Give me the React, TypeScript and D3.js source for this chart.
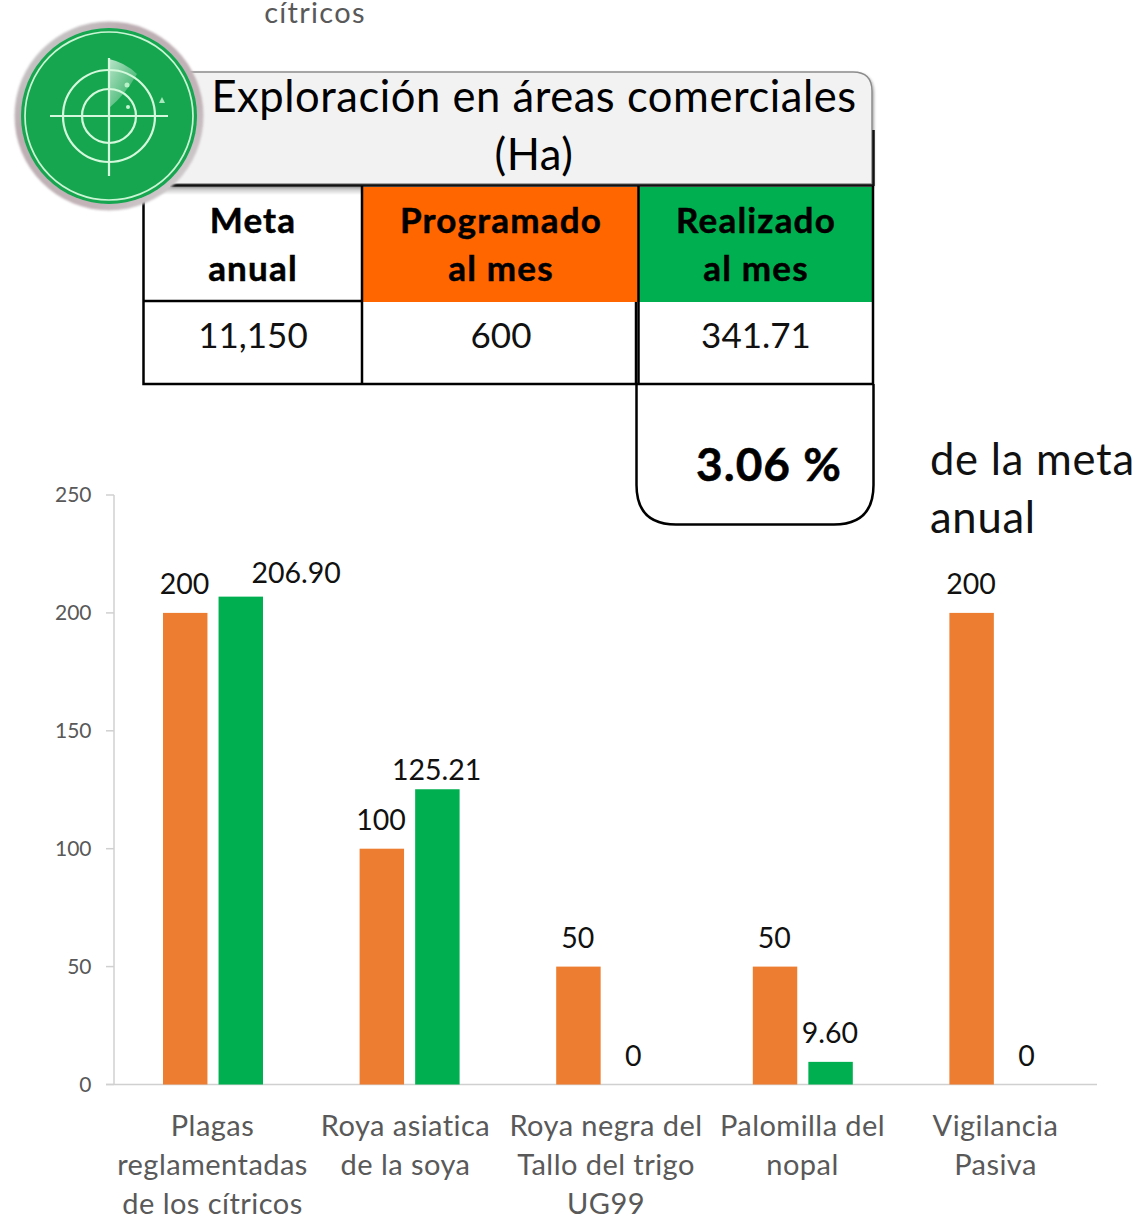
import React from "react";
import * as d3 from "d3";

const categories = ["Plagas reglamentadas de los cítricos", "Roya asiatica de la soya", "Roya negra del Tallo del trigo UG99", "Palomilla del nopal", "Vigilancia Pasiva"];
const categoryLines = [["Plagas", "reglamentadas", "de los cítricos"], ["Roya asiatica", "de la soya"], ["Roya negra del", "Tallo del trigo", "UG99"], ["Palomilla del", "nopal"], ["Vigilancia", "Pasiva"]];
const labelCenters = [212.5, 405.5, 606, 802.5, 995.5];
const programado = [200, 100, 50, 50, 200];
const realizado = [206.9, 125.21, 0, 9.6, 0];
const realizadoLabels = ["206.90", "125.21", "0", "9.60", "0"];
const realizadoLabelShift = [56, 0, 0, 0, 0];
const realizadoLabelGap = [14, 9, 19, 19, 19];
const yTicks = [0, 50, 100, 150, 200, 250];
const series = ["Programado", "Realizado"];
const FONT = "Lato, 'Open Sans', sans-serif";

const W = 1142, H = 1216;
const x = d3.scaleBand().domain(categories).range([114, 1097]).paddingInner(0).paddingOuter(0);
const inner = d3.scaleBand().domain(series).range([49, 149]).paddingInner(0.2).paddingOuter(0);
const y = d3.scaleLinear().domain([0, 250]).range([1084.5, 495]);
const tickColor = "#d0d0d0";
const textGray = "#595959";
const orange = "#ed7d31";
const green = "#00b050";

function Radar() {
  const cx = 109, cy = 116;
  return (
    <g>
      <defs>
        <linearGradient id="sweep" x1="0" y1="0" x2="1" y2="1">
          <stop offset="0" stopColor="#fff" stopOpacity="0.7" />
          <stop offset="1" stopColor="#fff" stopOpacity="0.03" />
        </linearGradient>
        <linearGradient id="rim" x1="0" y1="0" x2="1" y2="1">
          <stop offset="0" stopColor="#cfd8d6" />
          <stop offset="0.3" stopColor="#bcaeb2" />
          <stop offset="0.7" stopColor="#c2b4b8" />
          <stop offset="1" stopColor="#d8dcdc" />
        </linearGradient>
        <filter id="blur1"><feGaussianBlur stdDeviation="0.6" /></filter>
        <filter id="blur2"><feGaussianBlur stdDeviation="0.9" /></filter>
      </defs>
      <circle cx={cx} cy={cy} r={94.5} fill="url(#rim)" filter="url(#blur2)" />
      <circle cx={cx} cy={cy} r={88} fill="#13a650" filter="url(#blur1)" />
      <circle cx={cx} cy={cy} r={84} fill="none" stroke="#c9f5d4" strokeWidth={1.7} filter="url(#blur1)" />
      <path d={`M${cx},59 A57,57 0 0 1 137,74 Q125,95 ${cx},108 Z`} fill="url(#sweep)" />
      <g fill="none" stroke="#d4f8dc" strokeWidth={2.2} filter="url(#blur1)">
        <circle cx={cx} cy={cy} r={46} />
        <circle cx={cx} cy={cy} r={27} />
        <line x1={50} x2={168} y1={116} y2={116} />
        <line x1={cx} x2={cx} y1={58} y2={176} />
      </g>
      <path d="M162,97 L165,103 H159 Z" fill="#a8e8bc" />
      <circle cx={127} cy={85} r={2.5} fill="#b8f0c8" />
      <circle cx={128} cy={107} r={2} fill="#c4f5d0" />
    </g>
  );
}

export default function App() {
  return (
    <svg width={W} height={H} viewBox={`0 0 ${W} ${H}`} style={{ position: "absolute", left: 0, top: 0, background: "#fff" }} fontFamily={FONT}>
      <defs>
        <filter id="shadow" x="-5%" y="-5%" width="110%" height="115%">
          <feDropShadow dx="1" dy="2" stdDeviation="1.5" floodColor="#000" floodOpacity="0.4" />
        </filter>
        <linearGradient id="underShadow" x1="0" y1="0" x2="0" y2="1">
          <stop offset="0" stopColor="#000" stopOpacity="0.28" />
          <stop offset="1" stopColor="#000" stopOpacity="0" />
        </linearGradient>
      </defs>

      <text x={315} y={23} textAnchor="middle" fontSize={29} letterSpacing={1.3} fill={textGray}>cítricos</text>

      {/* Title panel */}
      <path d="M170,72 H853 Q872,72 872,91 V184 H170 Z" fill="#f2f2f2" stroke="#8c8c8c" strokeWidth={1.5} filter="url(#shadow)" />
      <path d="M873.5,130 V186" stroke="#111" strokeWidth={2.5} fill="none" />
      <line x1={170} x2={874} y1={185.5} y2={185.5} stroke="#111" strokeWidth={2.5} />
      <text x={534} y={111.5} textAnchor="middle" fontSize={43.5} letterSpacing={0.55} fill="#000">Exploración en áreas comerciales</text>
      <text x={534} y={169.5} textAnchor="middle" fontSize={43.5} letterSpacing={0.55} fill="#000">(Ha)</text>

      {/* Table */}
      <rect x={145} y={187} width={216} height={8} fill="url(#underShadow)" />
      <rect x={362} y={187} width={276} height={115} fill="#ff6600" />
      <rect x={639} y={187} width={233} height={115} fill={green} />
      <g stroke="#000" strokeWidth={2.5} fill="none">
        <path d="M143.5,186 V384 H873" />
        <path d="M143,301 H362" />
        <path d="M362,186 V384" />
        <path d="M638.5,186 V384" />
        <path d="M636,302 V384" />
        <path d="M873,186 V384" />
        <path d="M636.5,384 V485 Q636.5,524.5 676,524.5 H834 Q873.5,524.5 873.5,485 V384" />
      </g>
      <g fontWeight={700} fontSize={35} letterSpacing={1.2} stroke="#000" strokeWidth={0.5} fill="#000" textAnchor="middle">
        <text x={253} y={233}>Meta</text>
        <text x={253} y={281}>anual</text>
        <text x={501} y={233}>Programado</text>
        <text x={501} y={281}>al mes</text>
        <text x={756} y={233}>Realizado</text>
        <text x={756} y={281}>al mes</text>
      </g>
      <g fontSize={35} fill="#111" textAnchor="middle">
        <text x={253} y={348}>11,150</text>
        <text x={501} y={348}>600</text>
        <text x={756} y={348}>341.71</text>
      </g>
      <text x={769} y={481} textAnchor="middle" fontWeight={700} fontSize={46} letterSpacing={1} stroke="#000" strokeWidth={0.5} fill="#000">3.06 %</text>
      <text x={930} y={475} fontSize={43.5} letterSpacing={0.75} fill="#111">de la meta</text>
      <text x={930} y={533} fontSize={43.5} letterSpacing={0.75} fill="#111">anual</text>

      {/* Axes */}
      <line x1={114} x2={114} y1={y(250)} y2={y(0)} stroke={tickColor} strokeWidth={1.5} />
      <line x1={106} x2={1097} y1={y(0)} y2={y(0)} stroke={tickColor} strokeWidth={1.5} />
      {yTicks.map((t) => (
        <g key={t}>
          <line x1={106} x2={114} y1={y(t)} y2={y(t)} stroke={tickColor} strokeWidth={1.5} />
          <text x={91.5} y={y(t) + 7} textAnchor="end" fontSize={21} fill={textGray}>{t}</text>
        </g>
      ))}

      {/* Bars */}
      {categories.map((c, i) => {
        const x0 = x(c)!;
        const xa = x0 + inner("Programado")!;
        const xb = x0 + inner("Realizado")!;
        const bw = inner.bandwidth();
        return (
          <g key={c}>
            <rect x={xa} y={y(programado[i])} width={bw} height={y(0) - y(programado[i])} fill={orange} />
            <rect x={xb} y={y(realizado[i])} width={bw} height={y(0) - y(realizado[i])} fill={green} />
            <text x={xa + bw / 2 - 0.7} y={y(programado[i]) - 19} textAnchor="middle" fontSize={28.5} fill="#111">{programado[i]}</text>
            <text x={xb + bw / 2 + realizadoLabelShift[i] - 0.7} y={y(realizado[i]) - realizadoLabelGap[i]} textAnchor="middle" fontSize={28.5} fill="#111">{realizadoLabels[i]}</text>
            {categoryLines[i].map((l, j) => (
              <text key={j} x={labelCenters[i]} y={1136 + j * 39} textAnchor="middle" fontSize={29} letterSpacing={0.45} fill={textGray}>{l}</text>
            ))}
          </g>
        );
      })}

      <Radar />
    </svg>
  );
}
